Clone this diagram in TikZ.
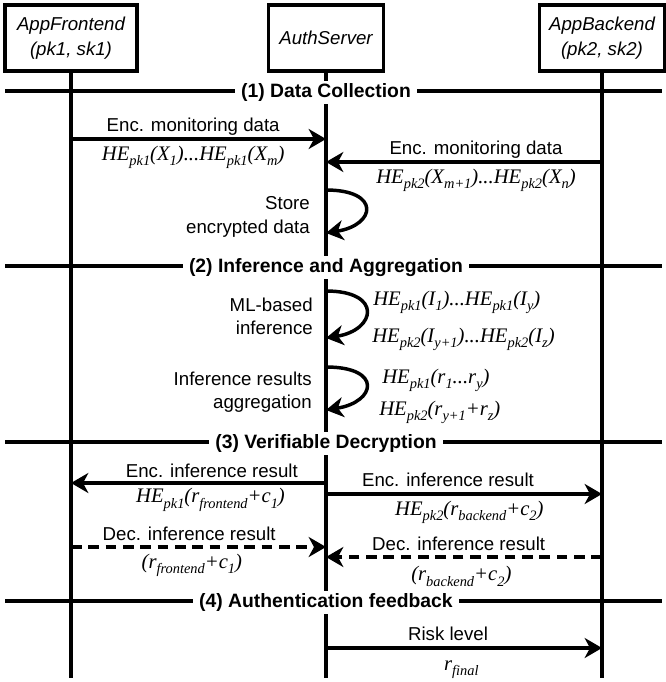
\documentclass[tikz,border=0pt]{standalone}
\usepackage{fontspec}
\setmainfont{Liberation Serif}
\setsansfont{Liberation Sans}
\usetikzlibrary{arrows.meta}
\newcommand\dn[1]{\raisebox{-4pt}{\fontsize{10.8}{11}\selectfont #1}}

\begin{document}
\begin{tikzpicture}[x=0.75pt,y=-0.75pt,
        actor/.style={draw,fill=white,line width=2.4pt,minimum height=49.5pt,
            align=center,font=\fontsize{14}{19}\selectfont\sffamily\itshape},
        life/.style={line width=2.4pt},
        msg/.style={line width=2.6pt,-{Stealth[length=13pt,width=15pt,inset=4pt]}},
        reply/.style={msg,dash pattern=on 8pt off 5pt},
        phase/.style={line width=3pt},
        stage/.style={fill=white,inner xsep=4.5pt,inner ysep=2pt,anchor=base,
            yshift=-5pt,font=\fontsize{14.5}{16}\selectfont\sffamily\bfseries},
        txt/.style={inner sep=0pt,font=\fontsize{14}{17.5}\selectfont\sffamily},
        he/.style={inner sep=0pt,font=\fontsize{15.5}{17}\selectfont\itshape},
        over/.style={txt,midway,anchor=base,yshift=6pt},
        under/.style={he,midway,anchor=base,yshift=-15.75pt}]
\useasboundingbox (0,0) rectangle (665,682);
\coordinate (bottom) at (0,678);

\node[actor,minimum width=99pt] (front) at (71,38) {AppFrontend\\(pk1, sk1)};
\node[actor,minimum width=86pt] (auth) at (326,38) {AuthServer};
\node[actor,minimum width=94pt] (back) at (602,38) {AppBackend\\(pk2, sk2)};
\foreach \n in {front,auth,back}
    \draw[life] (\n.south) -- (\n.south |- bottom);

\foreach \y/\t in {91/(1) Data Collection,266/(2) Inference and Aggregation,
        442/(3) Verifiable Decryption,601/(4) Authentication feedback}{
    \draw[phase] (5,\y) -- (662,\y);
    \node[stage] at (326,\y) {\t};
}

% (1)
\draw[msg] (front |- 0,139) -- (auth |- 0,139)
    node[over,xshift=-4pt] {Enc. monitoring data}
    node[under,xshift=-4pt] {HE\dn{pk1}(X\dn{1})...HE\dn{pk1}(X\dn{m})};
\draw[msg] (back |- 0,162) -- (auth |- 0,162)
    node[over,xshift=9pt] {Enc. monitoring data}
    node[under,xshift=9pt] {HE\dn{pk2}(X\dn{m+1})...HE\dn{pk2}(X\dn{n})};
\draw[msg] (auth |- 0,190) .. controls +(55,0) and +(50,-8) .. (auth |- 0,233);
\node[txt,align=right,anchor=east] (store) at (310,217) {Store\\encrypted data};

% (2)
\draw[msg] (auth |- 0,291) .. controls +(57,0) and +(50,-8) .. (auth |- 0,338);
\node[txt,align=right,anchor=east] (infer) at (313,316) {ML-based\\inference};
\node[he,anchor=base west] (inferA) at (373,305) {HE\dn{pk1}(I\dn{1})...HE\dn{pk1}(I\dn{y})};
\node[he,anchor=base west] (inferB) at (372,342) {HE\dn{pk2}(I\dn{y+1})...HE\dn{pk2}(I\dn{z})};
\draw[msg] (auth |- 0,367) .. controls +(57,0) and +(50,-8) .. (auth |- 0,410);
\node[txt,align=right,anchor=east] (aggr) at (312,392) {Inference results\\aggregation};
\node[he,anchor=base west] (aggrA) at (382,383) {HE\dn{pk1}(r\dn{1}...r\dn{y})};
\node[he,anchor=base west] (aggrB) at (379,415) {HE\dn{pk2}(r\dn{y+1}+r\dn{z})};

% (3)
\draw[msg] (auth |- 0,483) -- (front |- 0,483)
    node[over,xshift=10pt,yshift=-2pt] {Enc. inference result}
    node[under,xshift=9pt,yshift=1pt] {HE\dn{pk1}(r\dn{frontend}+c\dn{1})};
\draw[msg] (auth |- 0,494) -- (back |- 0,494)
    node[over,xshift=-12pt] {Enc. inference result}
    node[under,xshift=4pt] {HE\dn{pk2}(r\dn{backend}+c\dn{2})};
\draw[reply] (front |- 0,547) -- (auth |- 0,547)
    node[over,xshift=-7pt,yshift=-1pt] {Dec. inference result}
    node[under,xshift=-5pt] {(r\dn{frontend}+c\dn{1})};
\draw[reply] (back |- 0,557) -- (auth |- 0,557)
    node[over,xshift=-4pt,yshift=-1pt] {Dec. inference result}
    node[under,xshift=-2pt,yshift=-2pt] {(r\dn{backend}+c\dn{2})};

% (4)
\draw[msg] (auth |- 0,648) -- (back |- 0,648)
    node[over,xshift=-12pt] {Risk level}
    node[under,xshift=-2pt,yshift=-1pt] {r\dn{final}};

\end{tikzpicture}
\end{document}
